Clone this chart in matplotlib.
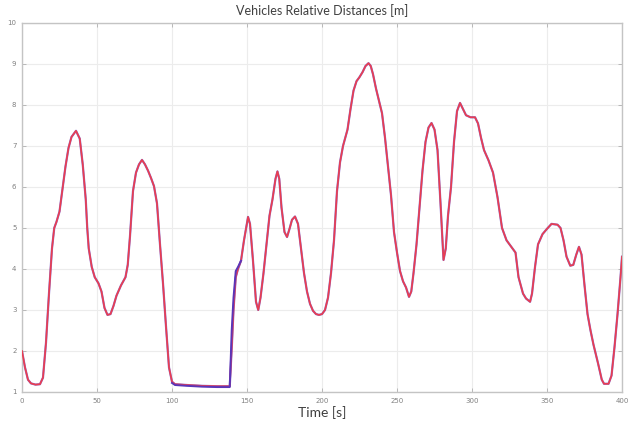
import numpy as np
import matplotlib
matplotlib.use("Agg")
import matplotlib.pyplot as plt

# relative distance [m] sampled over time [s]
time = [0, 2, 4, 6, 9, 12, 14, 16, 18, 20, 21.5, 23, 25, 27, 29, 31, 33, 36, 38.5, 40.5,
        42.5, 43.5, 44.5, 46.5, 48.5, 51, 53, 55, 57, 59, 61, 63, 66, 69, 70.5, 72, 74, 76,
        78, 80, 82, 84, 86, 88, 90, 92, 94, 96, 98, 100, 102, 110, 120, 130, 138.5, 140,
        141, 142.5, 144, 146, 148, 150.7, 152, 154, 156, 157.5, 159, 161, 163, 165, 167,
        169, 170.3, 171.5, 173, 175, 176.7, 178.5, 180, 182, 184, 186, 188, 190, 192, 194,
        196, 198, 200, 202, 204, 206, 208, 210, 212, 214, 217, 219, 221, 223, 225, 227,
        229, 231, 232.5, 234, 236, 238, 240, 242, 244, 246, 248, 250, 252, 254, 256, 258,
        259.5, 261, 263, 265, 267, 269, 271, 273, 275, 277, 279, 281, 282.5, 284, 286,
        288, 290, 292, 294, 296, 299, 302, 304, 306, 308, 311, 314, 317, 320, 323, 326,
        329, 331, 334, 336, 338.7, 340, 342, 344, 347, 350, 353, 357, 359, 361, 363,
        365.5, 367.5, 369.5, 371.3, 373, 375, 377, 379, 381, 384, 386.5, 388, 391, 393,
        395, 397, 399, 400]
dist_red = [2.0, 1.6, 1.3, 1.21, 1.18, 1.19, 1.35, 2.2, 3.4, 4.5, 5.0, 5.15, 5.4, 5.95,
            6.5, 6.95, 7.22, 7.37, 7.18, 6.55, 5.7, 5.0, 4.5, 4.05, 3.8, 3.65, 3.45, 3.05,
            2.88, 2.9, 3.1, 3.35, 3.6, 3.8, 4.1, 4.8, 5.9, 6.35, 6.55, 6.66, 6.55, 6.4, 6.22,
            6.02, 5.6, 4.6, 3.65, 2.6, 1.6, 1.25, 1.19, 1.17, 1.15, 1.14, 1.14, 2.2, 3.0,
            3.8, 4.0, 4.2, 4.7, 5.27, 5.1, 4.2, 3.2, 3.0, 3.3, 3.9, 4.6, 5.3, 5.7, 6.2,
            6.38, 6.2, 5.5, 4.9, 4.78, 5.0, 5.2, 5.28, 5.1, 4.5, 3.9, 3.45, 3.15, 2.98, 2.9,
            2.88, 2.9, 3.0, 3.3, 3.9, 4.7, 5.9, 6.6, 7.0, 7.4, 7.9, 8.35, 8.58, 8.68, 8.8,
            8.95, 9.02, 8.95, 8.75, 8.4, 8.1, 7.8, 7.2, 6.5, 5.8, 4.9, 4.4, 3.95, 3.7, 3.55,
            3.32, 3.45, 3.9, 4.6, 5.5, 6.4, 7.1, 7.45, 7.56, 7.4, 6.9, 5.6, 4.22, 4.5, 5.3,
            6.0, 7.1, 7.85, 8.05, 7.9, 7.75, 7.7, 7.7, 7.55, 7.2, 6.9, 6.65, 6.35, 5.75,
            5.0, 4.7, 4.55, 4.4, 3.8, 3.4, 3.28, 3.2, 3.4, 4.05, 4.6, 4.85, 4.98, 5.1, 5.08,
            5.0, 4.7, 4.3, 4.08, 4.1, 4.35, 4.54, 4.35, 3.6, 2.9, 2.5, 2.15, 1.7, 1.3, 1.2,
            1.2, 1.4, 2.1, 2.9, 3.8, 4.3]

# second estimate, only where it departs from the first one
blue_time = [100, 102, 110, 120, 130, 138.5, 139.8, 141, 142.5, 144, 146]
blue_dist = [1.22, 1.17, 1.15, 1.13, 1.12, 1.12, 2.5, 3.3, 3.95, 4.05, 4.2]

red = "#ea3d50"
blue = "#5a35b8"

fig = plt.figure(figsize=(6.41, 4.24), dpi=100)
ax = fig.add_axes([0.0343, 0.0755, 0.9361, 0.8703])

ax.plot(time, dist_red, color=blue, lw=1.6, alpha=0.7, solid_joinstyle="round", zorder=2)
ax.plot(blue_time, blue_dist, color=blue, lw=1.4, solid_joinstyle="round", zorder=4)
ax.plot(time, dist_red, color=red, lw=1.2, solid_joinstyle="round", zorder=3)

ax.set_xlim(0, 400)
ax.set_ylim(1, 10)
ax.set_xticks(np.arange(0, 401, 50))
ax.set_yticks(np.arange(1, 11, 1))
ax.grid(True, color="#ececec", lw=0.8)
ax.set_axisbelow(True)

for s in ax.spines.values():
    s.set_color("#c4c4c4")
    s.set_linewidth(1.0)
ax.tick_params(direction="in", length=3, width=0.6, color="#b0b0b0",
               top=True, right=True, labelsize=5, labelcolor="#808080", pad=4)

ax.set_title("Vehicles Relative Distances [m]", fontsize=9, family="Lato",
             color="#404040", pad=6)
ax.set_xlabel("Time [s]", fontsize=10, family="Lato", color="#404040", labelpad=2)

fig.savefig("out.png", dpi=100)
